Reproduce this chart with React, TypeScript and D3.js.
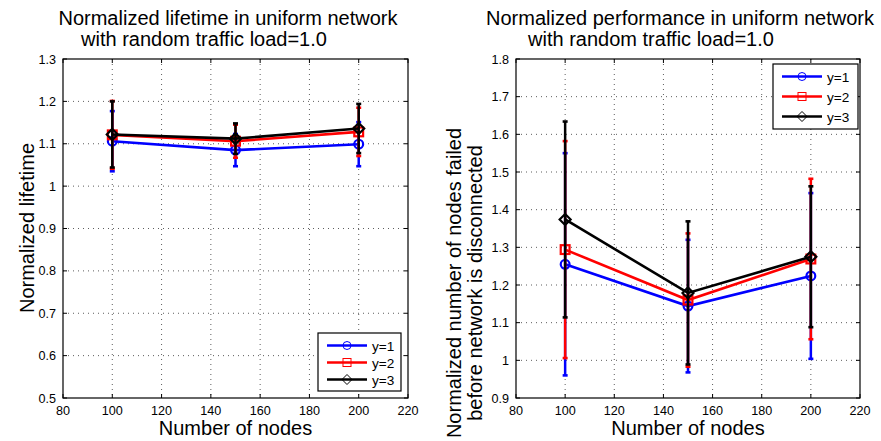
import React from 'react';
import * as d3 from 'd3';

const nodes = [100, 150, 200];
const xTicks = [80, 100, 120, 140, 160, 180, 200, 220];
const lifeTicks = [0.5, 0.6, 0.7, 0.8, 0.9, 1, 1.1, 1.2, 1.3];
const perfTicks = [0.9, 1, 1.1, 1.2, 1.3, 1.4, 1.5, 1.6, 1.7, 1.8];
const seriesNames = ['y=1', 'y=2', 'y=3'];
const seriesColors = ['#0000ff', '#ff0000', '#000000'];
const seriesMarkers = ['circle', 'square', 'diamond'];

// normalized lifetime (mean, symmetric error)
const lifeY1 = [1.106, 1.085, 1.099];
const lifeY2 = [1.121, 1.106, 1.128];
const lifeY3 = [1.122, 1.112, 1.136];
const lifeErr1 = [0.071, 0.038, 0.052];
const lifeErr2 = [0.080, 0.039, 0.057];
const lifeErr3 = [0.078, 0.036, 0.058];

// normalized number of failed nodes
const perfY1 = [1.255, 1.144, 1.224];
const perfY2 = [1.294, 1.160, 1.269];
const perfY3 = [1.374, 1.179, 1.275];
const perfErr1 = [0.295, 0.176, 0.220];
const perfErr2 = [0.288, 0.177, 0.213];
const perfErr3 = [0.260, 0.190, 0.187];

const font = 'Liberation Sans, Arial, Helvetica, sans-serif';
const fmt = (v: number) => d3.format('~g')(v);

type PanelProps = {
  left: number; right: number; top: number; bottom: number;
  yDomain: [number, number]; yTicks: number[];
  means: number[][]; errs: number[][];
  title: [string, number][]; ylabel: [string, number][]; ylabelY: number;
  legend: { x: number; y: number; w: number; h: number; row: number };
};

function Marker({ kind, x, y, color, sw, s }: any) {
  if (kind === 'circle') return <circle cx={x} cy={y} r={s} fill="none" stroke={color} strokeWidth={sw} />;
  if (kind === 'square')
    return <rect x={x - s} y={y - s} width={2 * s} height={2 * s} fill="none" stroke={color} strokeWidth={sw} />;
  const d = s * 1.25;
  return <path d={`M${x},${y - d}L${x + d},${y}L${x},${y + d}L${x - d},${y}Z`} fill="none" stroke={color} strokeWidth={sw} />;
}

function Panel(p: PanelProps) {
  const x = d3.scaleLinear().domain([80, 220]).range([p.left, p.right]);
  const y = d3.scaleLinear().domain(p.yDomain).range([p.bottom, p.top]);
  const line = d3.line<[number, number]>().x(d => x(d[0])).y(d => y(d[1]));
  const tk = 4;
  return (
    <g fontFamily={font}>
      {/* grid */}
      {xTicks.slice(1, -1).map(t => (
        <line key={'gx' + t} x1={x(t)} x2={x(t)} y1={p.top} y2={p.bottom} stroke="#333" strokeWidth={0.8} strokeDasharray="1,4" />
      ))}
      {p.yTicks.slice(1, -1).map(t => (
        <line key={'gy' + t} x1={p.left} x2={p.right} y1={y(t)} y2={y(t)} stroke="#333" strokeWidth={0.8} strokeDasharray="1,4" />
      ))}
      {/* ticks */}
      {xTicks.map(t => (
        <g key={'tx' + t}>
          <line x1={x(t)} x2={x(t)} y1={p.bottom} y2={p.bottom - tk} stroke="#000" />
          <line x1={x(t)} x2={x(t)} y1={p.top} y2={p.top + tk} stroke="#000" />
          <text x={x(t)} y={p.bottom + 17} textAnchor="middle" fontSize={12.6}>{fmt(t)}</text>
        </g>
      ))}
      {p.yTicks.map(t => (
        <g key={'ty' + t}>
          <line x1={p.left} x2={p.left + tk} y1={y(t)} y2={y(t)} stroke="#000" />
          <line x1={p.right} x2={p.right - tk} y1={y(t)} y2={y(t)} stroke="#000" />
          <text x={p.left - 7} y={y(t) + 4.5} textAnchor="end" fontSize={12.6}>{fmt(t)}</text>
        </g>
      ))}
      {/* series */}
      {p.means.map((vals, i) => {
        const pts = nodes.map((n, j) => [n, vals[j]] as [number, number]);
        const c = seriesColors[i];
        return (
          <g key={'s' + i}>
            <path d={line(pts) || ''} fill="none" stroke={c} strokeWidth={2.6} />
            {nodes.map((n, j) => {
              const hi = y(vals[j] + p.errs[i][j]);
              const lo = y(vals[j] - p.errs[i][j]);
              return (
                <g key={j}>
                  <line x1={x(n)} x2={x(n)} y1={hi} y2={lo} stroke={c} strokeWidth={2.5} />
                  <line x1={x(n) - 2.5} x2={x(n) + 2.5} y1={hi} y2={hi} stroke={c} strokeWidth={2.6} />
                  <line x1={x(n) - 2.5} x2={x(n) + 2.5} y1={lo} y2={lo} stroke={c} strokeWidth={2.6} />
                  <Marker kind={seriesMarkers[i]} x={x(n)} y={y(vals[j])} color={c} sw={2.2} s={4.4} />
                </g>
              );
            })}
          </g>
        );
      })}
      {/* box */}
      <rect x={p.left} y={p.top} width={p.right - p.left} height={p.bottom - p.top} fill="none" stroke="#000" strokeWidth={1.2} />
      {/* labels */}
      {p.title.map(([s, cx], i) => (
        <text key={'t' + i} x={cx} y={25 + i * 21} textAnchor="middle" fontSize={20}>{s}</text>
      ))}
      <text x={(p.left + p.right) / 2} y={p.bottom + 37} textAnchor="middle" fontSize={20}>Number of nodes</text>
      {p.ylabel.map(([s, bx], i) => (
        <text key={'yl' + i} transform={`translate(${bx},${p.ylabelY}) rotate(-90)`} textAnchor="middle" fontSize={20}>{s}</text>
      ))}
      {/* legend */}
      <rect x={p.legend.x} y={p.legend.y} width={p.legend.w} height={p.legend.h} fill="#fff" stroke="#000" strokeWidth={1.2} />
      {seriesNames.map((s, i) => {
        const ly = p.legend.y + 12.5 + i * p.legend.row;
        const lx = p.legend.x + 9;
        return (
          <g key={'lg' + i}>
            <line x1={lx} x2={lx + 40} y1={ly} y2={ly} stroke={seriesColors[i]} strokeWidth={2.6} />
            <Marker kind={seriesMarkers[i]} x={lx + 20} y={ly} color={seriesColors[i]} sw={1} s={4} />
            <text x={lx + 45} y={ly + 5} fontSize={13.6}>{s}</text>
          </g>
        );
      })}
    </g>
  );
}

export default function App() {
  return (
    <svg width={881} height={441} style={{ position: 'absolute', left: 0, top: 0, background: '#fff' }}>
      <rect width={881} height={441} fill="#fff" />
      <Panel
        left={63} right={408} top={59} bottom={398}
        yDomain={[0.5, 1.3]} yTicks={lifeTicks}
        means={[lifeY1, lifeY2, lifeY3]} errs={[lifeErr1, lifeErr2, lifeErr3]}
        title={[['Normalized lifetime in uniform network', 228], ['with random traffic load=1.0', 204]]}
        ylabel={[['Normalized lifetime', 34]]} ylabelY={228}
        legend={{ x: 318, y: 333, w: 83, h: 58, row: 17 }}
      />
      <Panel
        left={516} right={860} top={59} bottom={398}
        yDomain={[0.9, 1.8]} yTicks={perfTicks}
        means={[perfY1, perfY2, perfY3]} errs={[perfErr1, perfErr2, perfErr3]}
        title={[['Normalized performance in uniform network', 680], ['with random traffic load=1.0', 651]]}
        ylabel={[['Normalized number of nodes failed', 461], ['before network is disconnected', 482]]} ylabelY={283}
        legend={{ x: 773, y: 64, w: 85, h: 65, row: 20 }}
      />
    </svg>
  );
}
